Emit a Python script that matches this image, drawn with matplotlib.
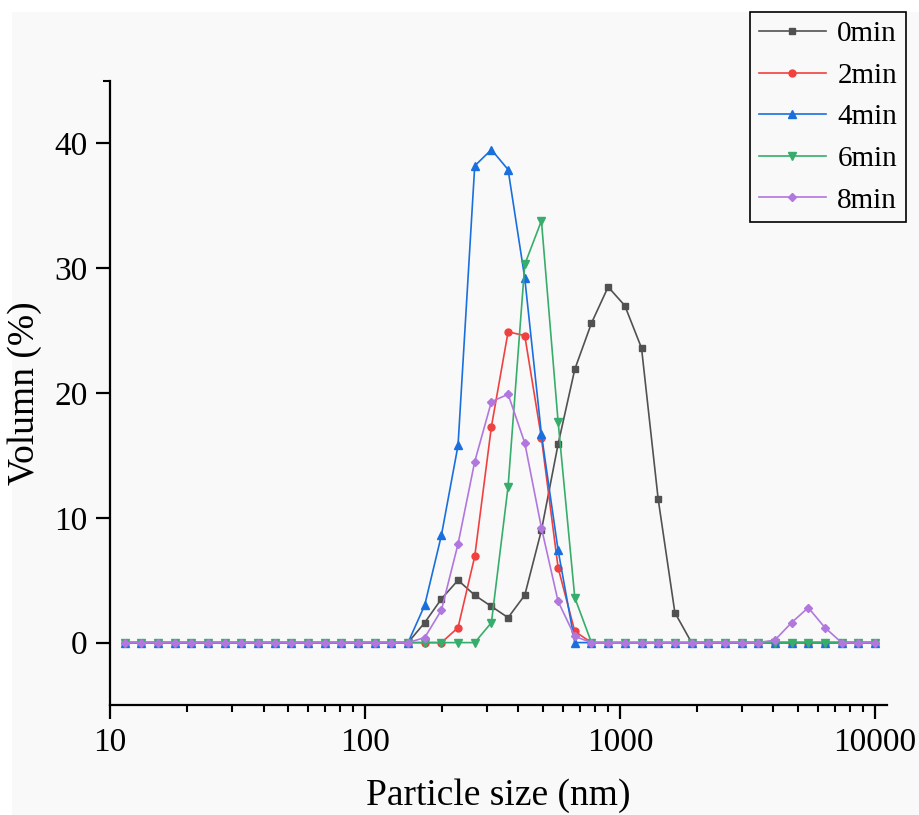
import matplotlib
matplotlib.use('Agg')
import matplotlib.pyplot as plt
from matplotlib.patches import Rectangle
from matplotlib.ticker import FixedLocator, LogLocator, NullFormatter

# tamaños de partícula (nm), bins del equipo
size_nm = [11.40, 13.26, 15.41, 17.92, 20.83, 24.21, 28.15, 32.72, 38.04, 44.22,
           51.40, 59.76, 69.47, 80.76, 93.89, 109.1, 126.9, 147.5, 171.5, 199.4,
           231.7, 269.4, 313.2, 364.1, 423.3, 492.0, 572.0, 665.0, 773.1, 898.7,
           1045, 1215, 1412, 1642, 1909, 2218, 2579, 2998, 3486, 4052,
           4710, 5476, 6366, 7400, 8603, 10000]

vol_0min = [0]*18 + [1.6, 3.5, 5.0, 3.8, 2.9, 2.0, 3.8, 9.0, 15.9, 21.9,
                     25.6, 28.5, 27.0, 23.6, 11.5, 2.4] + [0]*12
vol_2min = [0]*20 + [1.2, 6.9, 17.3, 24.9, 24.6, 16.4, 6.0, 0.9] + [0]*18
vol_4min = [0]*18 + [3.0, 8.6, 15.8, 38.2, 39.5, 37.9, 29.2, 16.7, 7.4, 0] + [0]*18
vol_6min = [0]*22 + [1.6, 12.5, 30.3, 33.8, 17.7, 3.6] + [0]*18
vol_8min = [0]*18 + [0.4, 2.6, 7.9, 14.5, 19.3, 19.9, 16.0, 9.2, 3.3, 0.5] \
    + [0]*11 + [0.2, 1.6, 2.8, 1.2, 0, 0, 0]

labels = ['0min', '2min', '4min', '6min', '8min']
series = [vol_0min, vol_2min, vol_4min, vol_6min, vol_8min]
colores = ['#515151', '#F14040', '#1A6FDF', '#37AD6B', '#B177DE']
marcadores = ['s', 'o', '^', 'v', 'D']
tam_marc = [4.5, 5, 6, 6, 4.5]

plt.rcParams['font.family'] = ['Liberation Serif', 'DejaVu Serif']

fig = plt.figure(figsize=(9.19, 8.15), dpi=100, facecolor='white')
# fondo gris claro como en la captura
fig.add_artist(Rectangle((12/919, 0), 1, 1 - 12/815, transform=fig.transFigure,
                         facecolor='#f9f9f9', edgecolor='none', zorder=-10))
ax = fig.add_axes([110/919, 1 - 705/815, 777/919, 624/815])
ax.set_facecolor('none')

for y, lab, c, m, ms in zip(series, labels, colores, marcadores, tam_marc):
    ax.plot(size_nm, y, color=c, marker=m, markersize=ms, linewidth=1.2,
            label=lab)

ax.set_xscale('log')
ax.set_xlim(10, 11150)
ax.set_ylim(-5, 45)
ax.set_yticks([0, 10, 20, 30, 40])
ax.yaxis.set_minor_locator(FixedLocator([45]))
ax.xaxis.set_minor_locator(LogLocator(base=10, subs=range(2, 10)))
ax.xaxis.set_minor_formatter(NullFormatter())
ax.set_xticks([10, 100, 1000, 10000])
ax.set_xticklabels(['10', '100', '1000', '10000'])

for s in ['top', 'right']:
    ax.spines[s].set_visible(False)
for s in ['left', 'bottom']:
    ax.spines[s].set_linewidth(1.6)

ax.tick_params(which='major', direction='out', length=10, width=1.6,
               labelsize=24, pad=6)
ax.tick_params(which='minor', direction='out', length=5, width=1.5)

ax.set_xlabel('Particle size (nm)', fontsize=27, labelpad=15)
ax.set_ylabel('Volumn (%)', fontsize=27, labelpad=9)

leg = ax.legend(loc='upper right', bbox_to_anchor=(906/919, 1 - 12/815),
                bbox_transform=fig.transFigure, fontsize=21, frameon=True,
                fancybox=False, edgecolor='black', handlelength=2.3,
                labelspacing=0.52, borderpad=0.3, handletextpad=0.4,
                borderaxespad=0)
leg.get_frame().set_linewidth(1.2)
leg.get_frame().set_facecolor('#f9f9f9')
leg.get_frame().set_alpha(1)

fig.savefig('out.png', dpi=100, facecolor=fig.get_facecolor())
